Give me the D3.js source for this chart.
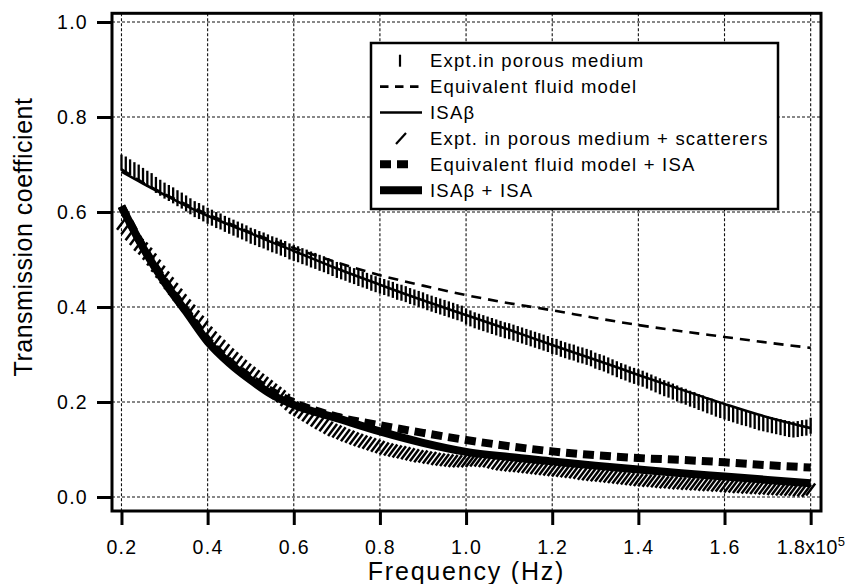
<!DOCTYPE html>
<html>
<head>
<meta charset="utf-8">
<script src="https://cdn.jsdelivr.net/npm/d3@7"></script>
<style>
  body { margin: 0; background: #fff; }
  svg { display: block; }
  text { font-family: "Liberation Sans", Arial, Helvetica, sans-serif; fill: #000; }
</style>
</head>
<body>
<svg id="chart" width="846" height="584"></svg>
<script>
// ---- axis ticks (frequency in units of 1e5 Hz) ----
const xTicks = [0.2, 0.4, 0.6, 0.8, 1.0, 1.2, 1.4, 1.6, 1.8];
const xTickLabels = ["0.2", "0.4", "0.6", "0.8", "1.0", "1.2", "1.4", "1.6", "1.8x10"];
const xTickExponent = "5";
const yTicks = [0.0, 0.2, 0.4, 0.6, 0.8, 1.0];
const yTickLabels = ["0.0", "0.2", "0.4", "0.6", "0.8", "1.0"];
const xExtent = [0.178, 1.824];
const yExtent = [-0.0295, 1.0183];

// ---- measured frequencies ----
const exptFreq = [
  0.20,0.21,0.22,0.23,0.24,0.25,0.26,0.27,0.28,0.29,
  0.30,0.31,0.32,0.33,0.34,0.35,0.36,0.37,0.38,0.39,
  0.40,0.41,0.42,0.43,0.44,0.45,0.46,0.47,0.48,0.49,
  0.50,0.51,0.52,0.53,0.54,0.55,0.56,0.57,0.58,0.59,
  0.60,0.61,0.62,0.63,0.64,0.65,0.66,0.67,0.68,0.69,
  0.70,0.71,0.72,0.73,0.74,0.75,0.76,0.77,0.78,0.79,
  0.80,0.81,0.82,0.83,0.84,0.85,0.86,0.87,0.88,0.89,
  0.90,0.91,0.92,0.93,0.94,0.95,0.96,0.97,0.98,0.99,
  1.00,1.01,1.02,1.03,1.04,1.05,1.06,1.07,1.08,1.09,
  1.10,1.11,1.12,1.13,1.14,1.15,1.16,1.17,1.18,1.19,
  1.20,1.21,1.22,1.23,1.24,1.25,1.26,1.27,1.28,1.29,
  1.30,1.31,1.32,1.33,1.34,1.35,1.36,1.37,1.38,1.39,
  1.40,1.41,1.42,1.43,1.44,1.45,1.46,1.47,1.48,1.49,
  1.50,1.51,1.52,1.53,1.54,1.55,1.56,1.57,1.58,1.59,
  1.60,1.61,1.62,1.63,1.64,1.65,1.66,1.67,1.68,1.69,
  1.70,1.71,1.72,1.73,1.74,1.75,1.76,1.77,1.78,1.79,1.80
];

// Expt. in porous medium
const exptPorous = [
  0.704,0.700,0.694,0.688,0.683,0.676,0.670,0.665,0.657,0.651,
  0.645,0.640,0.635,0.629,0.624,0.618,0.612,0.606,0.602,0.597,
  0.592,0.588,0.583,0.580,0.575,0.571,0.567,0.563,0.559,0.555,
  0.550,0.547,0.543,0.540,0.536,0.532,0.529,0.525,0.522,0.517,
  0.514,0.511,0.507,0.504,0.500,0.497,0.493,0.490,0.486,0.482,
  0.478,0.475,0.472,0.468,0.465,0.461,0.458,0.455,0.451,0.448,
  0.445,0.442,0.439,0.436,0.432,0.430,0.427,0.423,0.420,0.417,
  0.414,0.410,0.407,0.404,0.401,0.398,0.395,0.392,0.389,0.386,
  0.380,0.376,0.372,0.369,0.366,0.363,0.360,0.357,0.354,0.351,
  0.349,0.346,0.343,0.340,0.337,0.334,0.331,0.328,0.325,0.322,
  0.318,0.316,0.312,0.309,0.306,0.304,0.300,0.298,0.295,0.292,
  0.287,0.284,0.281,0.277,0.273,0.269,0.265,0.262,0.258,0.255,
  0.252,0.249,0.245,0.241,0.237,0.233,0.229,0.226,0.222,0.218,
  0.214,0.211,0.207,0.204,0.200,0.197,0.193,0.190,0.186,0.183,
  0.180,0.177,0.174,0.171,0.168,0.166,0.163,0.160,0.157,0.155,
  0.153,0.151,0.149,0.147,0.145,0.143,0.142,0.143,0.145,0.146,0.150
];

// Expt. in porous medium + scatterers
const exptScatter = [
  0.575,0.566,0.553,0.543,0.531,0.523,0.512,0.500,0.487,0.474,
  0.462,0.450,0.438,0.426,0.414,0.403,0.392,0.380,0.369,0.358,
  0.346,0.336,0.327,0.318,0.309,0.300,0.292,0.284,0.276,0.268,
  0.261,0.254,0.247,0.240,0.233,0.226,0.219,0.212,0.204,0.196,
  0.188,0.183,0.178,0.172,0.167,0.161,0.156,0.151,0.146,0.141,
  0.138,0.134,0.130,0.127,0.123,0.120,0.117,0.114,0.111,0.108,
  0.105,0.102,0.100,0.098,0.096,0.094,0.092,0.090,0.088,0.086,
  0.085,0.083,0.082,0.080,0.079,0.078,0.077,0.076,0.075,0.075,
  0.075,0.076,0.077,0.077,0.076,0.075,0.073,0.071,0.069,0.068,
  0.067,0.066,0.065,0.064,0.063,0.062,0.061,0.060,0.059,0.058,
  0.057,0.056,0.055,0.054,0.053,0.052,0.051,0.049,0.048,0.047,
  0.046,0.045,0.044,0.043,0.042,0.041,0.040,0.039,0.038,0.037,
  0.036,0.035,0.034,0.034,0.033,0.032,0.031,0.031,0.030,0.029,
  0.029,0.028,0.028,0.027,0.027,0.026,0.025,0.025,0.024,0.024,
  0.023,0.022,0.022,0.021,0.021,0.020,0.020,0.019,0.019,0.018,
  0.018,0.017,0.017,0.016,0.016,0.015,0.015,0.014,0.014,0.013,0.016
];

// ---- model predictions ----
const modelFreq = [0.20,0.25,0.30,0.35,0.40,0.45,0.50,0.55,0.60,0.70,0.80,0.90,1.00,1.10,1.20,1.30,1.40,1.50,1.60,1.70,1.80];
const equivFluid    = [0.690,0.662,0.638,0.616,0.595,0.576,0.557,0.540,0.524,0.494,0.467,0.445,0.425,0.408,0.393,0.377,0.362,0.349,0.337,0.325,0.314];
const isaBeta       = [0.685,0.660,0.636,0.613,0.592,0.573,0.555,0.536,0.518,0.481,0.447,0.414,0.383,0.352,0.320,0.289,0.257,0.226,0.196,0.168,0.145];
const equivFluidIsa = [0.612,0.527,0.455,0.393,0.331,0.286,0.251,0.222,0.199,0.169,0.151,0.135,0.120,0.107,0.096,0.088,0.082,0.078,0.073,0.067,0.062];
const isaBetaIsa    = [0.612,0.525,0.452,0.390,0.327,0.282,0.246,0.215,0.194,0.166,0.138,0.114,0.095,0.084,0.075,0.066,0.058,0.050,0.043,0.036,0.029];

const legendLabels = [
  "Expt.in porous medium",
  "Equivalent fluid model",
  "ISAβ",
  "Expt. in porous medium + scatterers",
  "Equivalent fluid model + ISA",
  "ISAβ + ISA"
];

// ---- styles ----
const styles = {
  thinDash:  { width: 2.6, dash: "10,7" },
  thinSolid: { width: 2.6, dash: null },
  thickDash: { width: 8, dash: "11,6" },
  thickSolid:{ width: 8, dash: null }
};
const barPath = "M0,-8V8";
const slashPath = "M-4.5,6L4.5,-6";

const svg = d3.select("#chart");
const frame = { left: 112, right: 821, top: 13.3, bottom: 511 };

const x = d3.scaleLinear().domain(xExtent).range([frame.left, frame.right]);
const y = d3.scaleLinear().domain(yExtent).range([frame.bottom, frame.top]);

// grid
const grid = svg.append("g").attr("stroke", "#111").attr("stroke-width", 1.1).attr("stroke-dasharray", "3,2");
grid.selectAll("line.gx").data(xTicks).join("line")
  .attr("x1", d => x(d)).attr("x2", d => x(d))
  .attr("y1", frame.top).attr("y2", frame.bottom);
grid.selectAll("line.gy").data(yTicks).join("line")
  .attr("y1", d => y(d)).attr("y2", d => y(d))
  .attr("x1", frame.left).attr("x2", frame.right);

// markers
const markers = svg.append("g").attr("stroke", "#000").attr("fill", "none");
markers.selectAll("path.bar").data(exptFreq).join("path")
  .attr("class", "bar")
  .attr("d", barPath)
  .attr("stroke-width", 2.3)
  .attr("transform", (d, i) => `translate(${x(d)},${y(exptPorous[i])})`);
markers.selectAll("path.slash").data(exptFreq).join("path")
  .attr("class", "slash")
  .attr("d", slashPath)
  .attr("stroke-width", 2.5)
  .attr("transform", (d, i) => `translate(${x(d)},${y(exptScatter[i])})`);

// model curves
const line = d3.line().x(d => x(d[0])).y(d => y(d[1])).curve(d3.curveMonotoneX);
const curves = [
  { values: equivFluid, style: styles.thinDash },
  { values: isaBeta, style: styles.thinSolid },
  { values: equivFluidIsa, style: styles.thickDash },
  { values: isaBetaIsa, style: styles.thickSolid }
];
svg.append("g").selectAll("path").data(curves).join("path")
  .attr("d", c => line(modelFreq.map((f, i) => [f, c.values[i]])))
  .attr("fill", "none")
  .attr("stroke", "#000")
  .attr("stroke-width", c => c.style.width)
  .attr("stroke-dasharray", c => c.style.dash);

// frame
svg.append("rect")
  .attr("x", frame.left).attr("y", frame.top)
  .attr("width", frame.right - frame.left).attr("height", frame.bottom - frame.top)
  .attr("fill", "none").attr("stroke", "#000").attr("stroke-width", 3);

// axes
const xAxis = svg.append("g")
  .attr("transform", `translate(0,${frame.bottom})`)
  .call(d3.axisBottom(x).tickValues(xTicks).tickFormat((d, i) => xTickLabels[i]).tickSize(14).tickPadding(15.5));
const yAxis = svg.append("g")
  .attr("transform", `translate(${frame.left},0)`)
  .call(d3.axisLeft(y).tickValues(yTicks).tickFormat((d, i) => yTickLabels[i]).tickSize(15).tickPadding(9));
[xAxis, yAxis].forEach(a => {
  a.select(".domain").remove();
  a.selectAll(".tick line").attr("stroke", "#000").attr("stroke-width", 3);
  a.selectAll(".tick text")
    .style("font-family", "'Liberation Sans', Arial, Helvetica, sans-serif")
    .style("font-size", "19.5px").style("letter-spacing", "1.3px").attr("fill", "#000");
});
xAxis.selectAll(".tick text").filter((d, i) => i === xTicks.length - 1)
  .style("letter-spacing", "0.4px")
  .append("tspan").attr("dy", "-0.62em").style("font-size", "13px").text(xTickExponent);

// axis titles
svg.append("text")
  .attr("x", (frame.left + frame.right) / 2).attr("y", 580)
  .attr("text-anchor", "middle")
  .style("font-size", "25px").style("letter-spacing", "1.8px")
  .text("Frequency (Hz)");
svg.append("text")
  .attr("transform", "translate(32,237) rotate(-90)")
  .attr("text-anchor", "middle")
  .style("font-size", "25px").style("letter-spacing", "0.5px")
  .text("Transmission coefficient");

// legend
const legend = svg.append("g");
legend.append("rect")
  .attr("x", 371).attr("y", 43).attr("width", 407).attr("height", 166)
  .attr("fill", "#fff").attr("stroke", "#000").attr("stroke-width", 2.5);
const legendItems = [
  { type: "bar" },
  { type: "line", style: { width: 2.6, dash: "8.5,6.5" }, len: 42 },
  { type: "line", style: styles.thinSolid, len: 42 },
  { type: "slash" },
  { type: "line", style: styles.thickDash, len: 31 },
  { type: "line", style: styles.thickSolid, len: 42 }
];
legendItems.forEach((it, i) => {
  const base = 67.3 + i * 25.9;
  const cy = base - 6.6;
  const g = legend.append("g");
  if (it.type === "line") {
    g.append("line").attr("x1", 380).attr("x2", 380 + it.len).attr("y1", cy).attr("y2", cy)
      .attr("stroke", "#000").attr("stroke-width", it.style.width)
      .attr("stroke-dasharray", it.style.dash);
  } else {
    g.append("path").attr("d", it.type === "bar" ? "M0,-6V6" : "M-5,5.5L5,-5.5")
      .attr("transform", `translate(${it.type === "bar" ? 400 : 401},${cy})`)
      .attr("stroke", "#000").attr("stroke-width", 2.2).attr("fill", "none");
  }
  g.append("text").attr("x", 430).attr("y", base)
    .style("font-size", "18.5px").style("letter-spacing", "1.2px")
    .text(legendLabels[i]);
});
</script>
</body>
</html>
